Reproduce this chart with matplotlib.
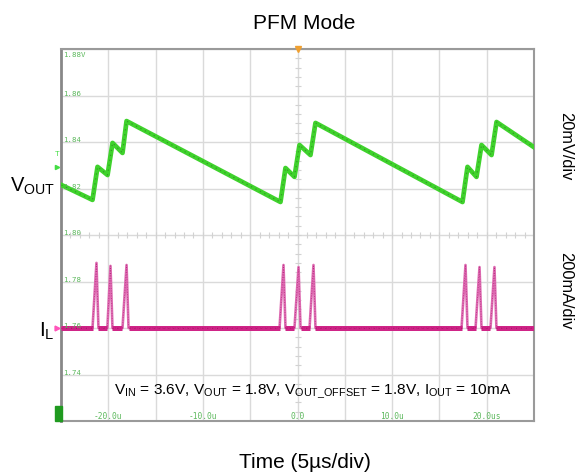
import numpy as np
import matplotlib
matplotlib.use("Agg")
import matplotlib.pyplot as plt

plt.rcParams['font.family'] = ['Liberation Sans', 'DejaVu Sans']
plt.rcParams['mathtext.fontset'] = 'custom'
plt.rcParams['mathtext.rm'] = 'Liberation Sans'
plt.rcParams['mathtext.it'] = 'Liberation Sans:italic'
plt.rcParams['mathtext.bf'] = 'Liberation Sans:bold'

# ---- data (time in us, Vout in V on screen scale, IL in mA) ----
vout_t = [-24.95, -21.67, -21.14, -20.08, -19.55, -18.50, -18.07, -1.80, -1.27, -0.32,
          0.21, 1.37, 1.90, 17.44, 17.97, 18.92, 19.45, 20.51, 21.04, 24.95]
vout_v = [1.8215, 1.8151, 1.8293, 1.8258, 1.8396, 1.8353, 1.8490, 1.8142, 1.8288, 1.8250,
          1.8387, 1.8344, 1.8482, 1.8142, 1.8293, 1.8250, 1.8387, 1.8344, 1.8486, 1.8379]

il_t = [-25.0, -21.67, -21.25, -21.04, -20.10, -19.77, -19.56, -18.50, -18.07, -17.86,
        -1.90, -1.48, -1.27, -0.32, 0.11, 0.32, 1.27, 1.69, 1.90,
        17.34, 17.76, 17.97, 18.82, 19.24, 19.45, 20.40, 20.82, 21.03, 25.0]
il_ma = [0, 0, 280, 0, 0, 267, 0, 0, 271, 0,
         0, 271, 0, 0, 262, 0, 0, 271, 0,
         0, 271, 0, 0, 262, 0, 0, 262, 0, 0]

y_ticks = [1.88, 1.86, 1.84, 1.82, 1.80, 1.78, 1.76, 1.74]
y_labels = ["1.88V", "1.86", "1.84", "1.82", "1.80", "1.78", "1.76", "1.74"]
x_ticks = [-20, -10, 0, 10, 20]
x_labels = ["-20.0u", "-10.0u", "0.0", "10.0u", "20.0us"]

il_offset = 1.76      # screen position of IL zero
il_scale = 0.02 / 200  # 200 mA/div mapped on 0.02 V/div grid

W, H = 579, 474
fig = plt.figure(figsize=(W / 100, H / 100), dpi=100)
L, R, T, B = 61, 534, 49, 421
ax = fig.add_axes([L / W, 1 - B / H, (R - L) / W, (B - T) / H])
ax.set_xlim(-25, 25)
ax.set_ylim(1.72, 1.88)

# grid
for xv in np.arange(-25, 25.1, 5):
    ax.axvline(xv, color='#dadada', lw=1.0, zorder=0)
for yv in np.arange(1.72, 1.881, 0.02):
    ax.axhline(yv, color='#dadada', lw=1.0, zorder=0)
# minor ticks on center lines
mt = np.arange(-25, 25.01, 1.0)
ax.plot(mt, np.full_like(mt, 1.80), ls='none', marker='|', ms=4, color='#d2d2d2', mew=0.8, zorder=0)
my = np.arange(1.72, 1.8801, 0.004)
ax.plot(np.zeros_like(my), my, ls='none', marker='_', ms=4, color='#d2d2d2', mew=0.8, zorder=0)

ax.set_xticks([])
ax.set_yticks([])
for s in ['top', 'right', 'bottom']:
    ax.spines[s].set_color('#9a9a9a')
    ax.spines[s].set_linewidth(1.5)
ax.spines['left'].set_color('#888888')
ax.spines['left'].set_linewidth(2.0)

# Vout trace
ax.plot(vout_t, vout_v, color='#3fd22c', lw=3.4, solid_joinstyle='round', zorder=3)
ax.plot(vout_t, vout_v, color='#2a7a1e', lw=0.9, ls=(0, (1, 3)), alpha=0.6, zorder=4)

# IL trace
il_t_a = np.array(il_t)
il_ma_a = np.array(il_ma, dtype=float)
il_disp = il_offset + il_ma_a * il_scale
ax.plot(il_t_a, il_disp, color='#de6cb2', lw=1.9, zorder=3)
ax.plot(il_t_a, il_disp, color='#a8106a', lw=0.6, ls=(0, (1, 2)), alpha=0.7, zorder=4)
base = np.where(il_ma_a == 0, il_disp, np.nan)
ax.plot(il_t_a, base, color='#cf2487', lw=3.6, zorder=3, solid_capstyle='butt')
ax.plot(il_t_a, base, color='#8a0a48', lw=0.7, ls=(0, (1, 4)), alpha=0.45, zorder=4)

# on-screen labels
mono = 'DejaVu Sans Mono'
gcol = '#5cb85c'
for yv, lab in zip(y_ticks, y_labels):
    if lab.endswith('V'):
        ax.text(0.004, yv - 0.0012, lab, transform=ax.get_yaxis_transform(), fontsize=5.3,
                family=mono, color=gcol, va='top', ha='left')
    else:
        ax.text(0.004, yv + 0.0008, lab, transform=ax.get_yaxis_transform(), fontsize=5.3,
                family=mono, color=gcol, va='center', ha='left')
for xv, lab in zip(x_ticks, x_labels):
    ax.text(xv, 0.011, lab, transform=ax.get_xaxis_transform(), fontsize=5.7,
            family=mono, color=gcol, va='center', ha='center')

# markers
ax.plot([0], [1.88], marker='v', ms=5, color='#f0a030', clip_on=False, zorder=6)
ax.plot([-25.4], [1.8293], marker='>', ms=3, color='#44dd44', clip_on=False, zorder=6)
ax.text(-25.4, 1.8345, 'T', fontsize=5.5, color='#44dd44', ha='center', va='center', clip_on=False)
ax.plot([-25.4], [1.76], marker='>', ms=3.5, color='#ff55bb', clip_on=False, zorder=6)
ax.add_patch(plt.Rectangle((-0.0127, 0.0), 0.0147, 0.040, transform=ax.transAxes,
                           color='#1f9a1f', clip_on=False, zorder=6))

def px(x, y):
    return x / W, 1 - y / H

fig.text(*px(304.5, 29.3), 'PFM Mode', fontsize=15, ha='center', va='baseline')
fig.text(*px(305, 468), 'Time (5\u00b5s/div)', fontsize=15, ha='center', va='baseline')
fig.text(*px(10, 192), r'$\mathrm{V_{OUT}}$', fontsize=14.5, ha='left', va='baseline')
fig.text(*px(39, 337), r'$\mathrm{I_{L}}$', fontsize=15, ha='left', va='baseline')
fig.text(*px(566, 146.5), '20mV/div', fontsize=11.8, rotation=270, ha='center', va='center')
fig.text(*px(566, 291), '200mA/div', fontsize=11.8, rotation=270, ha='center', va='center')
fig.text(*px(312.5, 392), r'$\mathrm{V_{IN}}$ = 3.6V, $\mathrm{V_{OUT}}$ = 1.8V, '
         r'$\mathrm{V_{OUT\_OFFSET}}$ = 1.8V, $\mathrm{I_{OUT}}$ = 10mA',
         fontsize=11.1, ha='center', va='center')

fig.savefig('out.png', dpi=100)
